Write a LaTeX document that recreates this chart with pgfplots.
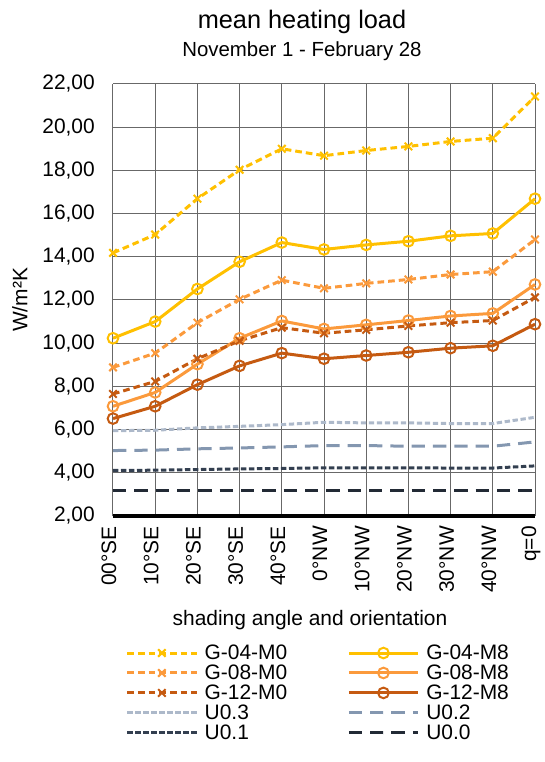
\documentclass[border=0pt]{standalone}
\usepackage{pgfplots}
\pgfplotsset{compat=1.18}
\usepackage{fontspec}
\setmainfont{Liberation Sans}
\definecolor{cA}{HTML}{FFC000}
\definecolor{cB}{HTML}{FB9A3C}
\definecolor{cC}{HTML}{C55A11}
\definecolor{u3}{HTML}{ADB9CA}
\definecolor{u2}{HTML}{8497B0}
\definecolor{u1}{HTML}{333F50}
\definecolor{u0}{HTML}{222A35}
\definecolor{gridc}{HTML}{686868}
\begin{document}
\begin{tikzpicture}
\begin{axis}[
  at={(0,0)}, anchor=south west,
  scale only axis, width=316.5pt, height=324pt,
  xmin=0, xmax=10, ymin=2, ymax=22,
  xtick={0,...,10},
  xticklabels={00°SE,10°SE,20°SE,30°SE,40°SE,0°NW,10°NW,20°NW,30°NW,40°NW,q=0},
  ytick={2,4,...,22},
  axis x line=bottom, axis y line=left,
  axis line style={gridc, line width=0.75pt, -},
  x axis line style={black, line width=3pt},
  grid=major,
  major grid style={gridc, line width=0.75pt},
  tick style={draw=none},
  font=\fontsize{15.7pt}{18pt}\selectfont,
  tick label style={font=\fontsize{15.7pt}{18pt}\selectfont},
  /pgf/number format/assume math mode=true,
  yticklabel={\pgfmathprintnumber[fixed,fixed zerofill,precision=2,use comma]{\tick}},
  yticklabel style={anchor=east, xshift=-8pt},
  xticklabel style={rotate=90, anchor=east, yshift=3pt, xshift=-2pt},
  clip=false,
  legend columns=2,
  legend cell align=left,
  legend style={draw=none, fill=none, at={(rel axis cs:0.02,-0.285)}, anchor=north west,
    font=\fontsize{15.7pt}{15.7pt}\selectfont, row sep=-1.5pt,
    /tikz/every odd column/.append style={column sep=3pt},
    /tikz/every even column/.append style={column sep=43pt}},
  legend image code/.code={\draw[mark repeat=2,mark phase=2,#1] plot coordinates {(0pt,0pt) (26pt,0pt) (52pt,0pt)};},
]
% G-04-M0
\addplot[cA, line width=2.25pt, dash pattern=on 5pt off 3pt, mark=x, mark size=4pt, mark options={solid, line width=1.5pt}] coordinates {
(0,14.18) (1,15.03) (2,16.69) (3,18.03) (4,19.00) (5,18.68) (6,18.92) (7,19.11) (8,19.34) (9,19.49) (10,21.42)};
\addlegendentry{G-04-M0}
% G-04-M8
\addplot[cA, line width=2.25pt, mark=o, mark size=4pt, mark options={solid, line width=1.5pt}] coordinates {
(0,10.23) (1,11.00) (2,12.51) (3,13.77) (4,14.66) (5,14.34) (6,14.55) (7,14.72) (8,14.97) (9,15.08) (10,16.69)};
\addlegendentry{G-04-M8}
% G-08-M0
\addplot[cB, line width=2.25pt, dash pattern=on 5pt off 3pt, mark=x, mark size=4pt, mark options={solid, line width=1.5pt}] coordinates {
(0,8.88) (1,9.54) (2,10.95) (3,12.03) (4,12.92) (5,12.54) (6,12.77) (7,12.95) (8,13.18) (9,13.31) (10,14.80)};
\addlegendentry{G-08-M0}
% G-08-M8
\addplot[cB, line width=2.25pt, mark=o, mark size=4pt, mark options={solid, line width=1.5pt}] coordinates {
(0,7.08) (1,7.72) (2,9.03) (3,10.23) (4,11.03) (5,10.66) (6,10.85) (7,11.05) (8,11.26) (9,11.38) (10,12.72)};
\addlegendentry{G-08-M8}
% G-12-M0
\addplot[cC, line width=2.25pt, dash pattern=on 5pt off 3pt, mark=x, mark size=4pt, mark options={solid, line width=1.5pt}] coordinates {
(0,7.65) (1,8.23) (2,9.28) (3,10.11) (4,10.72) (5,10.46) (6,10.62) (7,10.80) (8,10.95) (9,11.05) (10,12.12)};
\addlegendentry{G-12-M0}
% G-12-M8
\addplot[cC, line width=2.25pt, mark=o, mark size=4pt, mark options={solid, line width=1.5pt}] coordinates {
(0,6.51) (1,7.08) (2,8.08) (3,8.95) (4,9.54) (5,9.28) (6,9.43) (7,9.58) (8,9.77) (9,9.88) (10,10.88)};
\addlegendentry{G-12-M8}
% U0.3
\addplot[u3, line width=2.25pt, dash pattern=on 4pt off 2pt] coordinates {
(0,5.95) (1,5.97) (2,6.08) (3,6.15) (4,6.23) (5,6.34) (6,6.31) (7,6.31) (8,6.28) (9,6.28) (10,6.57)};
\addlegendentry{U0.3}
% U0.2
\addplot[u2, line width=2.25pt, dash pattern=on 10pt off 6pt] coordinates {
(0,5.03) (1,5.05) (2,5.11) (3,5.15) (4,5.20) (5,5.26) (6,5.26) (7,5.23) (8,5.23) (9,5.23) (10,5.43)};
\addlegendentry{U0.2}
% U0.1
\addplot[u1, line width=2.25pt, dash pattern=on 4pt off 2pt] coordinates {
(0,4.11) (1,4.12) (2,4.15) (3,4.18) (4,4.20) (5,4.23) (6,4.23) (7,4.23) (8,4.22) (9,4.22) (10,4.32)};
\addlegendentry{U0.1}
% U0.0
\addplot[u0, line width=2.25pt, dash pattern=on 10pt off 6pt] coordinates {
(0,3.20) (1,3.20) (2,3.20) (3,3.20) (4,3.20) (5,3.20) (6,3.20) (7,3.20) (8,3.20) (9,3.20) (10,3.20)};
\addlegendentry{U0.0}
\end{axis}
\node[font=\fontsize{19pt}{22pt}\selectfont] at (141.75pt,370.5pt) {mean heating load};
\node[font=\fontsize{15.3pt}{18pt}\selectfont] at (141.75pt,348.75pt) {November 1 - February 28};
\node[rotate=90, font=\fontsize{15.7pt}{18pt}\selectfont] at (-69.75pt,162pt) {W/m²K};
\node[font=\fontsize{15.7pt}{18pt}\selectfont] at (147.75pt,-78pt) {shading angle and orientation};
\path[use as bounding box] (-84.75pt,-184.5pt) rectangle (322.5pt,387pt);
\end{tikzpicture}
\end{document}
